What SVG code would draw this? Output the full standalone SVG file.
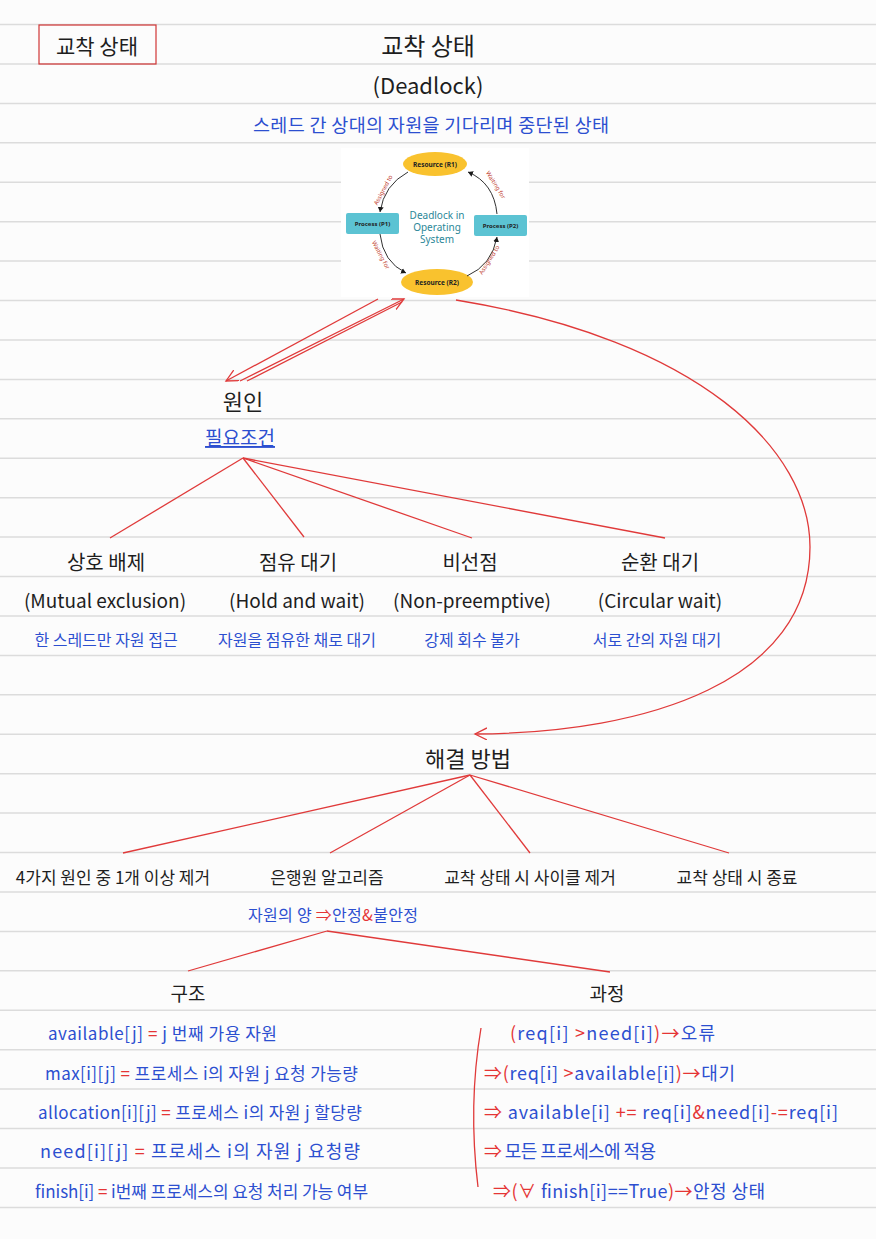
<svg xmlns="http://www.w3.org/2000/svg" width="876" height="1239" viewBox="0 0 876 1239">
<defs>
<style>
.rule{stroke:#dcdcdc;stroke-width:1.5}
.k{font-family:"Noto Sans CJK KR","Noto Sans",sans-serif;fill:#1e1e1e}
.b{font-family:"Noto Sans CJK KR","Noto Sans",sans-serif;fill:#2c4fd0}
.r{fill:#e53535}
.c{text-anchor:middle}
.red{stroke:#e03a3a;stroke-width:1.3;fill:none}
.img{font-family:"Noto Sans","Liberation Sans",sans-serif}
.lbl{font-family:"Noto Sans","Liberation Sans",sans-serif;font-size:6px;fill:#c0392b;text-anchor:middle}
.arc{stroke:#1a1a1a;stroke-width:0.9;fill:none;marker-end:url(#ah)}
</style>
<marker id="open" markerUnits="userSpaceOnUse" markerWidth="14" markerHeight="14" refX="12" refY="6" orient="auto">
<path d="M0,0 L12,6 L0,12" fill="none" stroke="#e03a3a" stroke-width="1.3"/>
</marker>
<marker id="ah" markerUnits="userSpaceOnUse" markerWidth="6" markerHeight="6" refX="5" refY="3" orient="auto">
<path d="M0,0 L5,3 L0,6 Z" fill="#1a1a1a"/>
</marker>
</defs>
<rect width="876" height="1239" fill="#fcfcfc"/>
<g id="rules">
<line class="rule" x1="0" x2="876" y1="24.5" y2="24.5"/>
<line class="rule" x1="0" x2="876" y1="63.9" y2="63.9"/>
<line class="rule" x1="0" x2="876" y1="103.4" y2="103.4"/>
<line class="rule" x1="0" x2="876" y1="142.8" y2="142.8"/>
<line class="rule" x1="0" x2="876" y1="182.2" y2="182.2"/>
<line class="rule" x1="0" x2="876" y1="221.7" y2="221.7"/>
<line class="rule" x1="0" x2="876" y1="261.1" y2="261.1"/>
<line class="rule" x1="0" x2="876" y1="300.5" y2="300.5"/>
<line class="rule" x1="0" x2="876" y1="339.9" y2="339.9"/>
<line class="rule" x1="0" x2="876" y1="379.4" y2="379.4"/>
<line class="rule" x1="0" x2="876" y1="418.8" y2="418.8"/>
<line class="rule" x1="0" x2="876" y1="458.2" y2="458.2"/>
<line class="rule" x1="0" x2="876" y1="497.7" y2="497.7"/>
<line class="rule" x1="0" x2="876" y1="537.1" y2="537.1"/>
<line class="rule" x1="0" x2="876" y1="576.5" y2="576.5"/>
<line class="rule" x1="0" x2="876" y1="615.9" y2="615.9"/>
<line class="rule" x1="0" x2="876" y1="655.4" y2="655.4"/>
<line class="rule" x1="0" x2="876" y1="694.8" y2="694.8"/>
<line class="rule" x1="0" x2="876" y1="734.2" y2="734.2"/>
<line class="rule" x1="0" x2="876" y1="773.7" y2="773.7"/>
<line class="rule" x1="0" x2="876" y1="813.1" y2="813.1"/>
<line class="rule" x1="0" x2="876" y1="852.5" y2="852.5"/>
<line class="rule" x1="0" x2="876" y1="891.9" y2="891.9"/>
<line class="rule" x1="0" x2="876" y1="931.4" y2="931.4"/>
<line class="rule" x1="0" x2="876" y1="970.8" y2="970.8"/>
<line class="rule" x1="0" x2="876" y1="1010.2" y2="1010.2"/>
<line class="rule" x1="0" x2="876" y1="1049.7" y2="1049.7"/>
<line class="rule" x1="0" x2="876" y1="1089.1" y2="1089.1"/>
<line class="rule" x1="0" x2="876" y1="1128.5" y2="1128.5"/>
<line class="rule" x1="0" x2="876" y1="1167.9" y2="1167.9"/>
<line class="rule" x1="0" x2="876" y1="1207.4" y2="1207.4"/>
</g>

<g id="tag">
<rect x="39" y="25" width="117" height="39" fill="none" stroke="#d03535" stroke-width="1.2"/>
<text class="k c" x="97" y="54" font-size="21">교착 상태</text>
</g>

<g id="title">
<text class="k c" x="428" y="55" font-size="24">교착 상태</text>
<text class="k c" x="428" y="94" font-size="22">(Deadlock)</text>
<text class="b c" x="431" y="132" font-size="18.5" textLength="356" lengthAdjust="spacing">스레드 간 상대의 자원을 기다리며 중단된 상태</text>
</g>

<g id="figure">
<rect x="341" y="148" width="188" height="149" fill="#ffffff"/>
<ellipse cx="435" cy="164" rx="32" ry="12" fill="#f9c22e"/>
<text class="img c" x="435" y="166.5" font-size="6.5" font-weight="bold" fill="#222">Resource (R1)</text>
<ellipse cx="437" cy="282" rx="36" ry="13" fill="#f9c22e"/>
<text class="img c" x="437" y="284.5" font-size="6.5" font-weight="bold" fill="#222">Resource (R2)</text>
<rect x="346" y="213" width="53" height="21" rx="2" fill="#5cc3d3"/>
<text class="img c" x="372.5" y="226" font-size="6" font-weight="bold" fill="#222">Process (P1)</text>
<rect x="474" y="215" width="53" height="21" rx="2" fill="#5cc3d3"/>
<text class="img c" x="500.5" y="228" font-size="6" font-weight="bold" fill="#222">Process (P2)</text>
<text class="img c" x="437" y="219" font-size="10" fill="#2b8798">Deadlock in</text>
<text class="img c" x="437" y="231" font-size="10" fill="#2b8798">Operating</text>
<text class="img c" x="437" y="243" font-size="10" fill="#2b8798">System</text>
<path class="arc" d="M408,172 Q384,185 380,212"/>
<path class="arc" d="M380,234 Q383,262 406,273"/>
<path class="arc" d="M467,276 Q492,265 497,237"/>
<path class="arc" d="M497,214 Q494,183 468,172"/>
<text class="lbl" transform="translate(385,191) rotate(-62)">Assigned to</text>
<text class="lbl" transform="translate(379,256) rotate(62)">Waiting for</text>
<text class="lbl" transform="translate(491,261) rotate(-58)">Assigned to</text>
<text class="lbl" transform="translate(494,186) rotate(58)">Waiting for</text>
</g>

<g id="cause">
<text class="k c" x="243" y="410" font-size="22">원인</text>
<text class="b c" x="240" y="445" font-size="19" text-decoration="underline">필요조건</text>
</g>

<g id="mutual">
<text class="k c" x="106" y="570" font-size="20">상호 배제</text>
<text class="k c" x="105" y="608" font-size="19">(Mutual exclusion)</text>
<text class="b c" x="106" y="646" font-size="16">한 스레드만 자원 접근</text>
</g>
<g id="hold">
<text class="k c" x="298" y="570" font-size="20">점유 대기</text>
<text class="k c" x="297" y="608" font-size="19">(Hold and wait)</text>
<text class="b c" x="297" y="646" font-size="16">자원을 점유한 채로 대기</text>
</g>
<g id="nonpre">
<text class="k c" x="470" y="570" font-size="20">비선점</text>
<text class="k c" x="472" y="608" font-size="19">(Non-preemptive)</text>
<text class="b c" x="472" y="646" font-size="16">강제 회수 불가</text>
</g>
<g id="circular">
<text class="k c" x="660" y="570" font-size="20">순환 대기</text>
<text class="k c" x="660" y="608" font-size="19">(Circular wait)</text>
<text class="b c" x="657" y="646" font-size="16">서로 간의 자원 대기</text>
</g>

<g id="solution">
<text class="k c" x="468" y="767" font-size="22">해결 방법</text>
</g>
<g id="sol1"><text class="k c" x="113" y="884" font-size="17">4가지 원인 중 1개 이상 제거</text></g>
<g id="sol2">
<text class="k c" x="327" y="884" font-size="17">은행원 알고리즘</text>
<text class="b" x="248" y="921" font-size="16" textLength="170" lengthAdjust="spacing">자원의 양 <tspan class="r">⇒</tspan>안정<tspan class="r">&amp;</tspan>불안정</text>
</g>
<g id="sol3"><text class="k c" x="530" y="884" font-size="17">교착 상태 시 사이클 제거</text></g>
<g id="sol4"><text class="k c" x="737" y="884" font-size="17">교착 상태 시 종료</text></g>

<g id="structure">
<text class="k c" x="188" y="1001" font-size="19">구조</text>
<text class="b" x="48" y="1040" font-size="17" textLength="229" lengthAdjust="spacing">available[j] <tspan class="r">=</tspan> j 번째 가용 자원</text>
<text class="b" x="45" y="1080" font-size="17" textLength="313" lengthAdjust="spacing">max[i][j] <tspan class="r">=</tspan> 프로세스 i의 자원 j 요청 가능량</text>
<text class="b" x="38" y="1119" font-size="17" textLength="324" lengthAdjust="spacing">allocation[i][j] <tspan class="r">=</tspan> 프로세스 i의 자원 j 할당량</text>
<text class="b" x="40" y="1158" font-size="18" textLength="320" lengthAdjust="spacing">need[i][j] <tspan class="r">=</tspan> 프로세스  i의 자원 j  요청량</text>
<text class="b" x="35" y="1198" font-size="17" textLength="333" lengthAdjust="spacing">finish[i] <tspan class="r">=</tspan> i번째 프로세스의 요청 처리 가능 여부</text>
</g>

<g id="process">
<text class="k c" x="607" y="1001" font-size="19">과정</text>
<text class="b" x="510" y="1040" font-size="18" textLength="205" lengthAdjust="spacing"><tspan class="r">(</tspan>req[i] <tspan class="r">&gt;</tspan>need[i]<tspan class="r">)→</tspan>오류</text>
<text class="b" x="484" y="1080" font-size="18" textLength="251" lengthAdjust="spacing"><tspan class="r">⇒(</tspan>req[i] <tspan class="r">&gt;</tspan>available[i]<tspan class="r">)→</tspan>대기</text>
<text class="b" x="484" y="1119" font-size="18" textLength="354" lengthAdjust="spacing"><tspan class="r">⇒</tspan> available[i] <tspan class="r">+=</tspan> req[i]<tspan class="r">&amp;</tspan>need[i]<tspan class="r">-=</tspan>req[i]</text>
<text class="b" x="484" y="1158" font-size="18" textLength="172" lengthAdjust="spacing"><tspan class="r">⇒</tspan> 모든 프로세스에 적용</text>
<text class="b" x="493" y="1198" font-size="18" textLength="272" lengthAdjust="spacing"><tspan class="r">⇒(∀</tspan> finish[i]==True<tspan class="r">)→</tspan>안정 상태</text>
</g>

<g id="connectors">
<line class="red" x1="378" y1="299" x2="226" y2="381" marker-end="url(#open)"/>
<line class="red" x1="240" y1="381" x2="404" y2="299" marker-end="url(#open)"/>
<line class="red" x1="247" y1="381" x2="402" y2="302"/>
<path class="red" d="M456,300 C700,340 810,450 810,547 C810,680 650,733 475,734" marker-end="url(#open)"/>
<line class="red" x1="243" y1="458" x2="110" y2="538"/>
<line class="red" x1="243" y1="458" x2="304" y2="537"/>
<line class="red" x1="243" y1="458" x2="472" y2="538"/>
<line class="red" x1="243" y1="458" x2="665" y2="538"/>
<line class="red" x1="470" y1="775" x2="123" y2="853"/>
<line class="red" x1="470" y1="775" x2="330" y2="853"/>
<line class="red" x1="470" y1="775" x2="530" y2="853"/>
<line class="red" x1="470" y1="775" x2="729" y2="853"/>
<line class="red" x1="327" y1="931" x2="188" y2="971"/>
<line class="red" x1="327" y1="931" x2="610" y2="972"/>
<path class="red" d="M481,1028 Q468,1105 478,1187"/>
</g>
</svg>
